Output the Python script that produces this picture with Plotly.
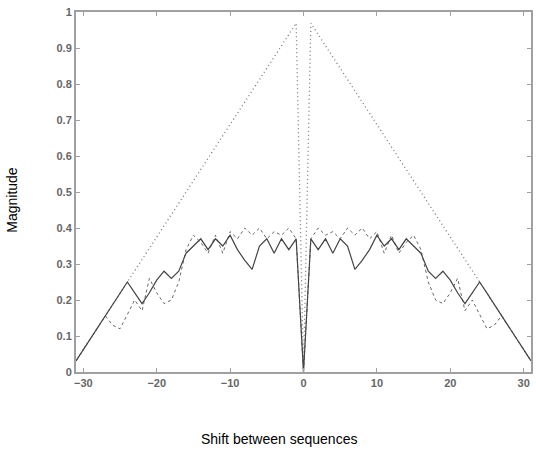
import plotly.graph_objects as go

lags = list(range(-31, 32))

# left half values (lag -31 .. -1); series are symmetric about lag 0
solid_left = [0.031, 0.0625, 0.094, 0.125, 0.156, 0.1875, 0.219, 0.25,
              0.22, 0.19, 0.22, 0.255, 0.28, 0.26, 0.28, 0.33, 0.35, 0.37,
              0.34, 0.37, 0.35, 0.38, 0.34, 0.31, 0.285, 0.35, 0.37, 0.33,
              0.37, 0.34, 0.37]
dashed_left = [0.031, 0.0625, 0.094, 0.125, 0.156, 0.13, 0.12, 0.16,
               0.20, 0.17, 0.26, 0.22, 0.19, 0.20, 0.25, 0.34, 0.38, 0.36,
               0.33, 0.38, 0.33, 0.39, 0.37, 0.40, 0.38, 0.40, 0.37, 0.39,
               0.38, 0.40, 0.37]
dotted_left = [(32 - abs(k)) / 32 for k in range(-31, 0)]

solid = solid_left + [0.0] + solid_left[::-1]
dashed = dashed_left + [0.0] + dashed_left[::-1]
dotted = dotted_left + [0.0] + dotted_left[::-1]

xticks = [-30, -20, -10, 0, 10, 20, 30]
yticks = [0, 0.1, 0.2, 0.3, 0.4, 0.5, 0.6, 0.7, 0.8, 0.9, 1]
ytext = ["0", "0.1", "0.2", "0.3", "0.4", "0.5", "0.6", "0.7", "0.8", "0.9", "1"]

fig = go.Figure()
fig.add_trace(go.Scatter(x=lags, y=dotted, mode="lines", hoverinfo="skip",
                         line=dict(color="#777777", width=1.3, dash="1px,3px")))
fig.add_trace(go.Scatter(x=lags, y=dashed, mode="lines", hoverinfo="skip",
                         line=dict(color="#666666", width=1, dash="3px,3px")))
fig.add_trace(go.Scatter(x=lags, y=solid, mode="lines", hoverinfo="skip",
                         line=dict(color="#444444", width=1.2)))

axis_common = dict(showline=True, linecolor="#a0a0a0", linewidth=2,
                   mirror="ticks", ticks="inside", ticklen=4,
                   tickcolor="#a0a0a0", showgrid=False, zeroline=False,
                   tickfont=dict(family="Liberation Sans", size=11,
                                 color="#666666", weight="bold"))

fig.update_layout(
    width=536, height=459,
    margin=dict(l=76, r=3, t=12, b=87),
    paper_bgcolor="white", plot_bgcolor="white",
    showlegend=False,
    xaxis=dict(range=[-31, 31], tickvals=xticks, **axis_common),
    yaxis=dict(range=[0, 1], tickvals=yticks, ticktext=ytext, **axis_common),
    annotations=[
        dict(text="Shift between sequences", xref="paper", yref="paper",
             x=0.446, y=-0.215, showarrow=False,
             font=dict(family="Liberation Sans", size=14, color="black")),
        dict(text="Magnitude", xref="paper", yref="paper",
             x=-0.163, y=0.478, showarrow=False, textangle=-90,
             font=dict(family="Liberation Sans", size=14, color="black")),
    ],
)

fig.write_html("out.html", config={"displayModeBar": False},
               post_script="document.body.style.margin='0';"
                           "document.body.style.overflow='hidden';")
